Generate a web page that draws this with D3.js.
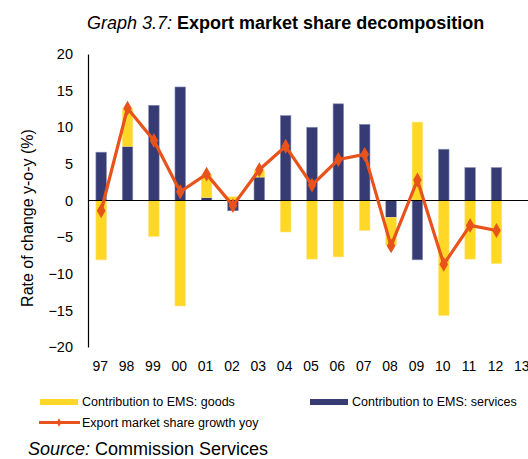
<!DOCTYPE html>
<html>
<head>
<meta charset="utf-8">
<script src="https://cdn.jsdelivr.net/npm/d3@7"></script>
<style>
  body { margin: 0; background: #fff; }
  svg { display: block; font-family: "Liberation Sans", Arial, sans-serif; }
</style>
</head>
<body>
<div id="chart"></div>
<script>
// chart data
const years = ['97','98','99','00','01','02','03','04','05','06','07','08','09','10','11','12','13'];
const goods = [-8.1, 5.2, -4.9, -14.4, 3.2, 0.5, 0.9, -4.3, -8.0, -7.7, -4.1, -3.8, 10.7, -15.7, -8.0, -8.6, null];
const services = [6.6, 7.4, 13.0, 15.5, 0.4, -1.4, 3.2, 11.6, 10.0, 13.2, 10.4, -2.3, -8.1, 7.0, 4.5, 4.5, null];
const emsGrowth = [-1.4, 12.6, 8.2, 1.2, 3.6, -0.7, 4.2, 7.4, 2.1, 5.6, 6.3, -6.2, 2.8, -8.7, -3.4, -4.1, null];
const yTicks = [-20, -15, -10, -5, 0, 5, 10, 15, 20];

const colGoods = '#ffd726', colServ = '#363b73', colLine = '#e8531c';

const W = 528, H = 459;
const plot = { left: 88, right: 536, top: 54, bottom: 347 };

const svg = d3.select('#chart').append('svg')
  .attr('width', W)
  .attr('height', H);

const x = d3.scaleBand()
  .domain(years)
  .range([plot.left, plot.right])
  .paddingInner(0.6)
  .paddingOuter(0.3);

const y = d3.scaleLinear()
  .domain([-20, 20])
  .range([plot.bottom, plot.top]);

// title
const title = svg.append('text')
  .attr('x', 87).attr('y', 29)
  .style('font-size', '18px');
title.append('tspan').style('font-style', 'italic').text('Graph 3.7: ');
title.append('tspan').style('font-weight', 'bold').text('Export market share decomposition');

// stacked bars: positives go up from zero, negatives go down
const rows = years.map((yr, i) => ({ yr, g: goods[i], s: services[i] }))
  .filter(d => d.g !== null);

const segs = [];
rows.forEach(d => {
  let pos = 0, neg = 0;
  [['s', d.s, colServ], ['g', d.g, colGoods]].forEach(([k, v, c]) => {
    if (v >= 0) { segs.push({ yr: d.yr, y0: pos, y1: pos + v, c }); pos += v; }
    else { segs.push({ yr: d.yr, y0: neg, y1: neg + v, c }); neg += v; }
  });
});

svg.append('g').selectAll('rect')
  .data(segs)
  .join('rect')
  .attr('x', d => x(d.yr))
  .attr('width', x.bandwidth())
  .attr('y', d => y(Math.max(d.y0, d.y1)))
  .attr('height', d => Math.abs(y(d.y0) - y(d.y1)))
  .attr('fill', d => d.c)
  .attr('stroke', d => d.c === colServ ? '#8e91b8' : '#ffe57a')
  .attr('stroke-width', 0.6);

// axes
const yAxis = d3.axisLeft(y).tickValues(yTicks).tickSize(0).tickPadding(15);
const yG = svg.append('g')
  .attr('transform', `translate(${plot.left},0)`)
  .call(yAxis);
yG.select('.domain').attr('stroke', '#000').attr('stroke-width', 1.2);
yG.selectAll('text')
  .attr('fill', '#000')
  .style('font-size', '14.5px')
  .style('font-family', '"Liberation Sans", Arial, sans-serif');

// zero line
svg.append('line')
  .attr('x1', plot.left).attr('x2', W)
  .attr('y1', y(0)).attr('y2', y(0))
  .attr('stroke', '#000').attr('stroke-width', 1.2);

const xAxis = d3.axisBottom(x).tickSize(0).tickPadding(0);
const xG = svg.append('g')
  .attr('transform', `translate(-1,${plot.bottom + 14})`)
  .call(xAxis);
xG.select('.domain').remove();
xG.selectAll('text')
  .attr('fill', '#000')
  .style('font-size', '14px')
  .style('font-family', '"Liberation Sans", Arial, sans-serif');

// y axis label
svg.append('text')
  .attr('transform', `translate(33,218) rotate(-90)`)
  .attr('text-anchor', 'middle')
  .style('font-size', '16px')
  .text('Rate of change y-o-y (%)');

// line with diamond markers
const pts = years.map((yr, i) => ({ yr, v: emsGrowth[i] })).filter(d => d.v !== null);
const line = d3.line()
  .x(d => x(d.yr) + x.bandwidth() / 2)
  .y(d => y(d.v));

svg.append('path')
  .datum(pts)
  .attr('d', line)
  .attr('fill', 'none')
  .attr('stroke', colLine)
  .attr('stroke-width', 3.2)
  .attr('stroke-linejoin', 'round');

const diamond = d3.symbol().type(d3.symbolDiamond).size(64);
svg.append('g').selectAll('path')
  .data(pts)
  .join('path')
  .attr('transform', d => `translate(${x(d.yr) + x.bandwidth() / 2},${y(d.v)})`)
  .attr('d', diamond)
  .attr('fill', colLine);

// legend
const leg = svg.append('g').style('font-size', '12.5px');
leg.append('rect').attr('x', 40).attr('y', 399).attr('width', 38).attr('height', 6).attr('fill', colGoods);
leg.append('text').attr('x', 82).attr('y', 406).text('Contribution to EMS: goods');
leg.append('rect').attr('x', 310).attr('y', 399).attr('width', 38).attr('height', 6).attr('fill', colServ);
leg.append('text').attr('x', 352).attr('y', 406).text('Contribution to EMS: services');
leg.append('line').attr('x1', 39).attr('x2', 80).attr('y1', 422.5).attr('y2', 422.5)
  .attr('stroke', colLine).attr('stroke-width', 3);
leg.append('path').attr('transform', 'translate(59,422.5)')
  .attr('d', d3.symbol().type(d3.symbolDiamond).size(20)).attr('fill', colLine);
leg.append('text').attr('x', 82).attr('y', 427).text('Export market share growth yoy');

// source
const src = svg.append('text').attr('x', 28).attr('y', 455).style('font-size', '18px');
src.append('tspan').style('font-style', 'italic').text('Source: ');
src.append('tspan').text('Commission Services');
</script>
</body>
</html>
